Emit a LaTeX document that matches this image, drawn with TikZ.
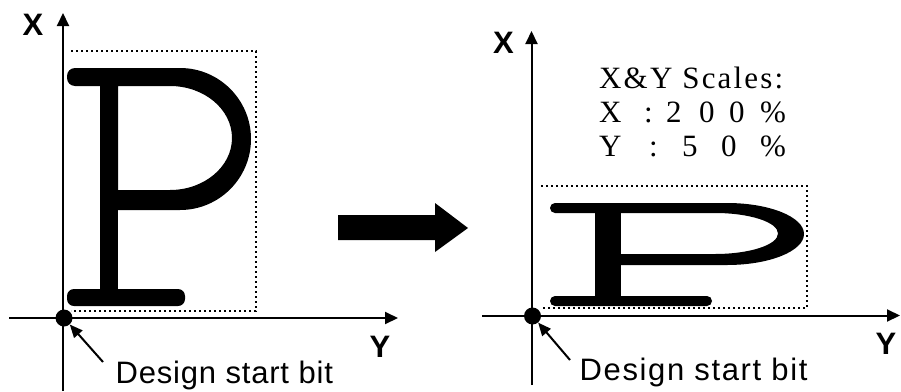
\documentclass[tikz,border=0pt]{standalone}
\usepackage{fontspec}
\setmainfont{Liberation Serif}
\newfontfamily\arialfont{Liberation Sans}
\newfontfamily\arialA[LetterSpace=2.6]{Liberation Sans}
\newfontfamily\arialB[LetterSpace=5.2]{Liberation Sans}
\newfontfamily\timesS[LetterSpace=7]{Liberation Serif}
\usetikzlibrary{arrows.meta}
\begin{document}
\begin{tikzpicture}[x=1pt,y=-1pt,
  axis/.style={line width=2pt,-{Triangle[length=13pt,width=12pt]}},
  dotbox/.style={line width=2.4pt,dash pattern=on 2.4pt off 2.6pt},
  axlabel/.style={font=\arialfont\bfseries\fontsize{31}{31}\selectfont,inner sep=0pt},
  startdot/.style={circle,fill=black,minimum size=17pt,inner sep=0pt},
  pointer/.style={line width=2pt,-{Triangle[length=13pt,width=11pt]}},
  scaletext/.style={font=\fontsize{31}{31}\selectfont,inner sep=0pt,anchor=base west},
  glyph/.style={fill=black}]
\useasboundingbox (0,0) rectangle (901,391);

% ---------------- left panel ----------------
\coordinate (LvB) at (63,391);
\coordinate (LvT) at (63,13);
\coordinate (LhL) at (9,318);
\coordinate (LhR) at (398,318);
\draw[axis] (LvB) -- (LvT);
\draw[axis] (LhL) -- (LhR);
\node[axlabel] (LX) at (33,24.5) {X};
\node[axlabel] (LY) at (380,347) {Y};

% dotted frame
\draw[dotbox] (71,51) -- (256,51) -- (256,311) -- (71,311);

% letter P (original)
\fill[glyph,rounded corners=8pt] (67,68) rectangle (110,86);
\fill[glyph,even odd rule] (100,68) -- (180,68) .. controls (219.2,68) and (251,99.8) .. (251,139)
   .. controls (251,178.2) and (219.2,210) .. (180,210) -- (100,210) -- cycle
   (118,86) -- (170,86) .. controls (204.2,86) and (232,109.3) .. (232,138)
   .. controls (232,166.7) and (204.2,190) .. (170,190) -- (118,190) -- cycle;
\fill[glyph] (100,68) rectangle (118,300);
\fill[glyph,rounded corners=7pt] (67,289) rectangle (185,306);

\node[startdot] (Ldot) at (64,318) {};
\node[inner sep=0pt,anchor=base west,font=\arialA\fontsize{31}{31}\selectfont] (Llab) at (115.5,383) {Design start bit};
\coordinate (Lptr) at (103,362);
\draw[pointer] (Lptr) -- (Ldot);

% ---------------- transformation arrow ----------------
\fill[glyph] (338,215) -- (435,215) -- (435,203) -- (468,228) -- (435,252) -- (435,240) -- (338,240) -- cycle;

% ---------------- right panel ----------------
\coordinate (RvB) at (531.5,385);
\coordinate (RvT) at (531.5,31);
\coordinate (RhL) at (482,315.5);
\coordinate (RhR) at (900,315.5);
\draw[axis] (RvB) -- (RvT);
\draw[axis] (RhL) -- (RhR);
\node[axlabel] (RX) at (503.5,43) {X};
\node[axlabel] (RY) at (886,344) {Y};

\node[scaletext,font=\timesS\fontsize{31}{31}\selectfont] (S1) at (599,88) {X\&Y Scales:};
\node[scaletext] (S2) at (599,122) {\makebox[45pt][l]{X}\makebox[22pt][l]{:}\makebox[33pt][l]{2}\makebox[30pt][l]{0}\makebox[31pt][l]{0}\%};
\node[scaletext] (S3) at (599,156) {\makebox[50pt][l]{Y}\makebox[33pt][l]{:}\makebox[39pt][l]{5}\makebox[39pt][l]{0}\%};

\draw[dotbox] (541,186) -- (807,186) -- (807,308) -- (541,308);

% letter P (scaled)
\fill[glyph,rounded corners=5pt] (550,203) rectangle (603,213);
\fill[glyph,even odd rule] (595,203) -- (727,203) .. controls (769.5,203) and (804,216.9) .. (804,234)
   .. controls (804,251.1) and (769.5,265) .. (727,265) -- (595,265) -- cycle
   (620.5,213) -- (715,213) .. controls (749.8,213) and (778,222.2) .. (778,233.5)
   .. controls (778,244.8) and (749.8,254) .. (715,254) -- (620.5,254) -- cycle;
\fill[glyph] (595,203) rectangle (620.5,301);
\fill[glyph,rounded corners=5pt] (550,296) rectangle (712,306);

\node[startdot] (Rdot) at (532.5,316) {};
\node[inner sep=0pt,anchor=base west,font=\arialB\fontsize{31}{31}\selectfont] (Rlab) at (579.5,380) {Design start bit};
\coordinate (Rptr) at (570,360);
\draw[pointer] (Rptr) -- (Rdot);
\end{tikzpicture}
\end{document}
